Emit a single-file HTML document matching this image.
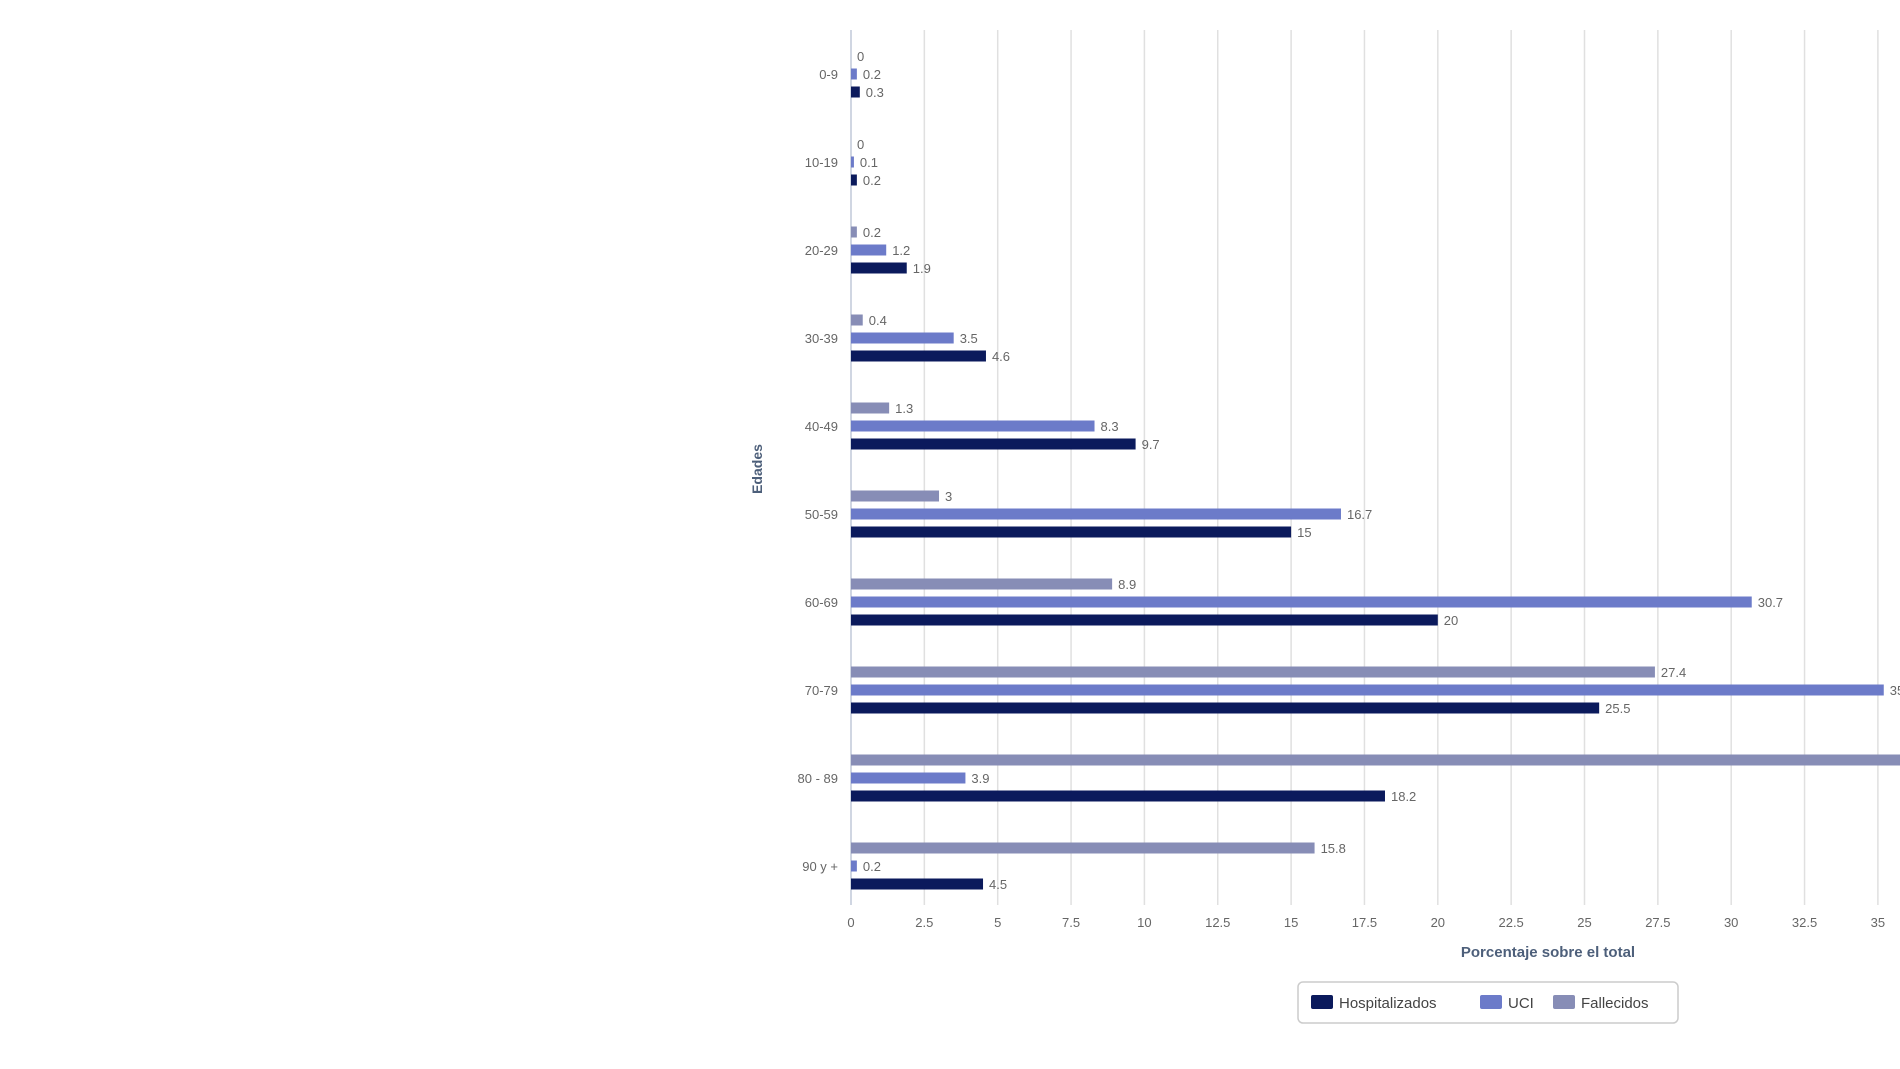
<!DOCTYPE html>
<html><head><meta charset="utf-8"><style>
html,body{margin:0;padding:0;background:#fff;width:1900px;height:1069px;overflow:hidden}
text{font-family:"Liberation Sans",sans-serif}
</style></head><body>
<svg id="chart" width="1900" height="1069" xmlns="http://www.w3.org/2000/svg"></svg>
<script>
const categories=["0-9","10-19","20-29","30-39","40-49","50-59","60-69","70-79","80 - 89","90 y +"];
const hospitalizados=[0.3,0.2,1.9,4.6,9.7,15,20,25.5,18.2,4.5];
const uci=[0.2,0.1,1.2,3.5,8.3,16.7,30.7,35.2,3.9,0.2];
const fallecidos=[0,0,0.2,0.4,1.3,3,8.9,27.4,41,15.8];
const xTicks=[0,2.5,5,7.5,10,12.5,15,17.5,20,22.5,25,27.5,30,32.5,35];

const NS="http://www.w3.org/2000/svg";
const svg=document.getElementById('chart');
const x0=851,pxPer=29.34,yTop=30,yBot=905,y0=74,step=88;
const xs=v=>x0+v*pxPer;
const yc=i=>y0+i*step;
function mk(tag,attrs,txt){const e=document.createElementNS(NS,tag);for(const k in attrs)e.setAttribute(k,attrs[k]);if(txt!==undefined)e.textContent=txt;svg.appendChild(e);return e;}

xTicks.forEach(t=>{
  const g=mk('line',{x1:xs(t),x2:xs(t),y1:yTop,y2:yBot,stroke:t===0?'#c0c8d8':'#e0e0e0','stroke-width':1.5});
  
  
  const l=mk('text',{x:xs(t),y:927,'text-anchor':'middle','font-size':13,fill:'#666'},String(t));
  
  
});

const series=[{name:'fallecidos',vals:fallecidos,color:'#878db6',off:-18},{name:'uci',vals:uci,color:'#6c7bc9',off:0},{name:'hospitalizados',vals:hospitalizados,color:'#0b1a5c',off:18}];
categories.forEach((c,i)=>{
  const t=mk('text',{x:838,y:yc(i)+5,'text-anchor':'end','font-size':13,fill:'#666'},c);
  
  
  series.forEach(s=>{
    const v=s.vals[i];const y=yc(i)+s.off;
    const w=Math.max(v*pxPer,v>0?2:0);
    const r=mk('rect',{x:x0,y:y-5.5,width:w,height:11,fill:s.color});
    
    
    const lb=mk('text',{x:x0+w+6,y:y+5,'font-size':13,fill:'#666'},String(v));
    
    
  });
});

const yt=mk('text',{x:0,y:0,transform:'translate(762,469) rotate(-90)','text-anchor':'middle','font-size':14,'font-weight':'bold',fill:'#4d5f7a'},'Edades');


const xt=mk('text',{x:1548,y:957,'text-anchor':'middle','font-size':15,'font-weight':'bold',fill:'#4d5f7a'},'Porcentaje sobre el total');



const lg=mk('rect',{x:1298,y:982,width:380,height:41,rx:5,fill:'#fff',stroke:'#ccc','stroke-width':1.5});


const legendItems=[['Hospitalizados','#0b1a5c',1311],['UCI','#6c7bc9',1480],['Fallecidos','#878db6',1553]];
legendItems.forEach(([n,c,x])=>{
  const sw=mk('rect',{x:x,y:995,width:22,height:14,rx:2,fill:c});
  
  
  const tx=mk('text',{x:x+28,y:1008,'font-size':15,fill:'#444'},n);
  
  
});
</script>
</body></html>
